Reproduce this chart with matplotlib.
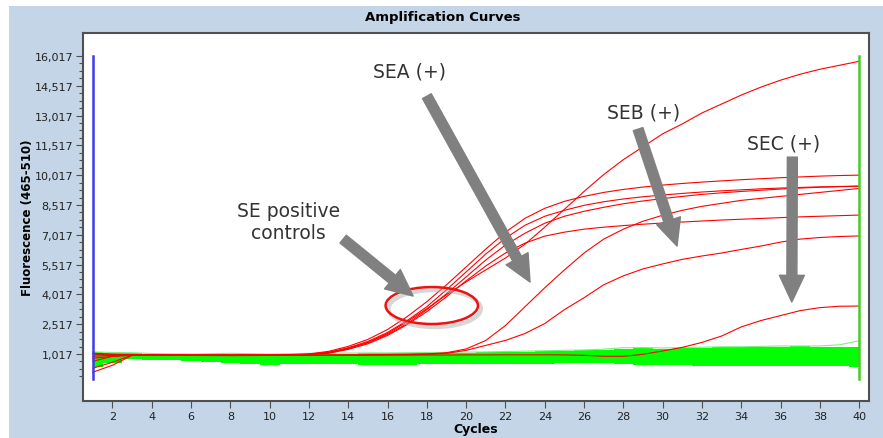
import matplotlib
matplotlib.use("Agg")
from matplotlib import pyplot as plt
from matplotlib.patches import Ellipse, Rectangle
from matplotlib.ticker import FuncFormatter, FixedLocator

cycles = list(range(1, 41))

# SE positive controls
pos_1 = [1050, 1000, 980, 975, 970, 965, 960, 960, 965, 970, 985, 1020, 1150, 1400, 1750, 2250, 2900, 3650, 4500, 5400,
         6300, 7150, 7850, 8350, 8700, 8950, 9150, 9300, 9420, 9520, 9600, 9670, 9730, 9790, 9840, 9890, 9930, 9970, 10000, 10020]
pos_2 = [650, 900, 970, 970, 965, 960, 955, 955, 960, 965, 975, 1000, 1100, 1330, 1650, 2100, 2700, 3400, 4250, 5150,
         6050, 6850, 7500, 7950, 8250, 8500, 8680, 8820, 8930, 9020, 9100, 9170, 9230, 9280, 9330, 9370, 9400, 9430, 9450, 9470]
pos_3 = [300, 600, 960, 965, 960, 955, 950, 950, 955, 960, 970, 990, 1080, 1280, 1580, 2000, 2550, 3250, 4050, 4900,
         5750, 6500, 7100, 7600, 7950, 8200, 8400, 8580, 8720, 8840, 8950, 9050, 9130, 9200, 9260, 9320, 9370, 9410, 9440, 9460]
pos_4 = [900, 950, 975, 970, 965, 960, 955, 955, 958, 962, 970, 985, 1050, 1250, 1530, 1950, 2500, 3150, 3900, 4700,
         5450, 6100, 6600, 6950, 7150, 7300, 7400, 7480, 7550, 7610, 7660, 7710, 7760, 7800, 7840, 7880, 7920, 7950, 7980, 8010]
pos_5 = [100, 450, 950, 960, 958, 955, 950, 950, 955, 960, 970, 1000, 1100, 1300, 1600, 2050, 2650, 3300, 4000, 4650,
         5250, 5850, 6550, 7400, 8300, 9200, 10050, 10800, 11450, 12100, 12600, 13150, 13600, 14050, 14450, 14800, 15100, 15350, 15550, 15750]

# samples
sea = [1000, 960, 950, 950, 945, 945, 940, 940, 945, 945, 950, 955, 960, 970, 980, 990, 1000, 1020, 1080, 1270,
       1700, 2450, 3400, 4350, 5250, 6100, 6800, 7300, 7700, 8000, 8250, 8450, 8600, 8750, 8850, 8950, 9050, 9150, 9250, 9350]
seb = [800, 900, 950, 950, 948, 945, 942, 940, 942, 945, 948, 950, 955, 960, 965, 975, 985, 1000, 1050, 1200,
       1450, 1700, 2050, 2550, 3250, 3850, 4500, 4950, 5300, 5550, 5780, 5950, 6100, 6280, 6450, 6650, 6800, 6880, 6930, 6960]
sec = [1050, 980, 960, 955, 950, 945, 945, 940, 940, 945, 945, 950, 950, 955, 955, 960, 960, 965, 965, 970,
       970, 975, 975, 975, 970, 950, 900, 900, 1000, 1170, 1350, 1600, 1920, 2380, 2700, 2950, 3200, 3350, 3420, 3430]

# negative samples (green band envelope)
neg_high = [1100, 1070, 1060, 1010, 1000, 990, 1010, 1030, 1010, 990, 1010, 1030, 1040, 1040, 1050, 1050, 1060, 1070, 1080, 1090,
            1100, 1120, 1140, 1160, 1180, 1200, 1230, 1280, 1300, 1290, 1310, 1330, 1350, 1350, 1370, 1390, 1400, 1390, 1380, 1360]
neg_low = [380, 560, 760, 730, 700, 650, 600, 560, 520, 480, 500, 520, 510, 500, 480, 470, 480, 490, 500, 510,
           510, 500, 510, 530, 540, 550, 540, 500, 460, 440, 440, 430, 420, 410, 410, 420, 410, 400, 390, 380]
neg_top = [1120, 1090, 1080, 1040, 1020, 1010, 1030, 1050, 1030, 1010, 1030, 1050, 1060, 1060, 1070, 1070, 1080, 1090, 1100, 1110,
           1120, 1140, 1160, 1180, 1200, 1220, 1260, 1330, 1340, 1320, 1340, 1360, 1380, 1380, 1400, 1420, 1420, 1420, 1480, 1680]

y_ticks = [1017 + 1500 * k for k in range(11)]
x_ticks = list(range(2, 41, 2))

fig = plt.figure(figsize=(8.83, 4.39), dpi=100, facecolor='white')
fig.patches.append(Rectangle((9 / 883, 0), 1 - 9 / 883, 1 - 7 / 439, transform=fig.transFigure,
                             facecolor='#c3d5e6', edgecolor='none', zorder=-10))
ax = fig.add_axes([83 / 883, 37 / 439, 786 / 883, 368 / 439])
ax.set_facecolor('white')

# negative curves
ax.fill_between(cycles, neg_low, neg_high, color='#00ff00', step='mid', linewidth=0, zorder=2)
ax.plot(cycles, neg_top, color='#7cf07c', linewidth=0.8, zorder=2)

# positive curves
for series in [pos_1, pos_2, pos_3, pos_4, pos_5, sea, seb, sec]:
    ax.plot(cycles, series, color='#ff0000', linewidth=0.8, zorder=3)

# cycle range markers
ax.plot([1, 1], [-250, 16017], color='#3c3cf0', linewidth=1.8, zorder=4)
ax.plot([40, 40], [-250, 16017], color='#44cc22', linewidth=1.8, zorder=4)

ax.set_xlim(0.5, 40.5)
ax.set_ylim(-1350, 17175)
ax.xaxis.set_major_locator(FixedLocator(x_ticks))
ax.yaxis.set_major_locator(FixedLocator(y_ticks))
ax.yaxis.set_minor_locator(FixedLocator([-108 + 375 * k for k in range(44)]))
ax.yaxis.set_major_formatter(FuncFormatter(lambda v, p: f"{int(v):,}"))
ax.tick_params(axis='both', which='major', length=5, width=0.8, color='#505050', labelsize=8, labelcolor='#222222', pad=2)
ax.tick_params(axis='y', which='minor', length=3, width=0.8, color='#505050')
for s in ax.spines.values():
    s.set_color('#505050')
    s.set_linewidth(1.5)

# annotations
ell_shadow = Ellipse((18.4, 3300), 4.7, 1860, fill=False, edgecolor='#b0b0b0', linewidth=3, alpha=0.5, zorder=4)
ax.add_patch(ell_shadow)
ell = Ellipse((18.25, 3456), 4.7, 1860, fill=False, edgecolor='#ee1111', linewidth=1.8, zorder=5)
ax.add_patch(ell)

arrow_style = dict(arrowstyle='simple,head_length=1.6,head_width=1.5,tail_width=0.6',
                   color='#808080', mutation_scale=12, shrinkA=0, shrinkB=0)
ax.annotate('', xy=(17.3, 3934), xytext=(13.74, 6800), arrowprops=arrow_style, zorder=6)
ax.annotate('', xy=(23.25, 4638), xytext=(18.0, 13995), arrowprops=arrow_style, zorder=6)
ax.annotate('', xy=(30.73, 6450), xytext=(28.75, 12335), arrowprops=arrow_style, zorder=6)
ax.annotate('', xy=(36.57, 3633), xytext=(36.6, 10926), arrowprops=arrow_style, zorder=6)

label_kw = dict(fontsize=13.5, color='#333333', ha='center', va='center', family='DejaVu Sans', zorder=7)
ax.text(17.14, 15252, 'SEA (+)', **label_kw)
ax.text(29.05, 13190, 'SEB (+)', **label_kw)
ax.text(36.16, 11630, 'SEC (+)', **label_kw)
ax.text(10.94, 7681, 'SE positive\ncontrols', linespacing=1.15, **label_kw)

fig.text(443 / 883, 1 - 17 / 439, 'Amplification Curves', fontsize=9.5, fontweight='bold', ha='center', va='center')
fig.text(28 / 883, 1 - 218 / 439, 'Fluorescence (465-510)', fontsize=8.5, fontweight='bold',
         rotation=90, ha='center', va='center')
fig.text(476 / 883, 1 - 430 / 439, 'Cycles', fontsize=9, fontweight='bold', ha='center', va='center')

fig.savefig('out.png', dpi=100, facecolor=fig.get_facecolor())
